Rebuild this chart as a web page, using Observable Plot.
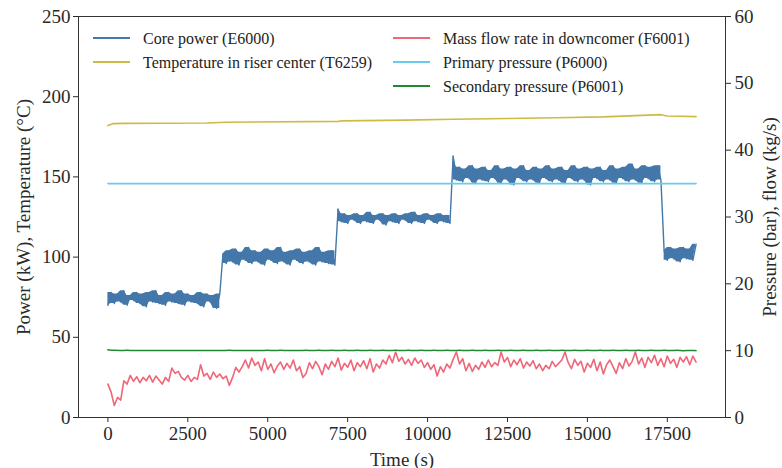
<!DOCTYPE html>
<html><head><meta charset="utf-8">
<script src="https://cdn.jsdelivr.net/npm/d3@7"></script>
<script src="https://cdn.jsdelivr.net/npm/@observablehq/plot@0.6"></script>
<style>body{margin:0;background:#fff} #chart{position:relative;width:782px;height:468px}</style>
</head><body><div id="chart"></div>
<script>
// ---- data ----
const sampleStep = 100; // s, sampling interval of power & flow series
const corePower = [
  70,78,71,77,72,79,70,76,73,78, 71,77,69,78,72,79,71,76,70,78, 72,77,71,79,70,77,72,76,71,78, 69,77,72,76,68,77,
  102,96,104,97,105,95,103,98,106,96, 104,97,103,95,105,98,104,96,106,97, 103,95,104,98,105,96,103,97,104,95, 106,97,103,96,104,95,
  130,122,127,121,126,123,127,121,126,122, 128,121,126,123,127,120,126,122,127,121, 126,123,127,121,128,122,126,121,127,123, 126,121,127,122,126,121,
  163,148,156,147,155,149,157,146,155,148, 156,147,154,149,157,146,155,148,156,145, 155,149,157,147,154,148,156,146,155,149,
  157,147,155,148,156,146,154,149,157,147, 155,148,156,145,155,149,156,147,154,148, 157,146,155,149,156,147,158,148,155,146, 157,149,156,147,157,148,
  104,98,106,99,105,97,106,99,105,98,108
];
const massFlow = [
  5.0,3.8,1.8,3.0,2.6,5.5,5.0,6.3,5.4,6.1,
  5.2,6.0,5.5,6.3,5.3,6.2,5.6,5.0,6.0,5.4,
  7.4,6.6,6.9,6.0,5.6,6.3,5.4,6.0,5.7,7.9,
  6.2,6.6,5.7,6.8,6.0,6.5,5.8,6.2,4.8,6.0,
  7.5,6.8,7.6,8.6,7.4,8.9,7.8,8.3,7.0,8.8,
  7.2,8.0,6.7,7.7,8.3,7.2,8.1,7.4,8.6,7.0,
  7.6,6.0,6.6,8.2,7.3,8.4,7.6,6.4,8.0,7.2,
  8.4,7.6,8.9,7.1,8.1,7.5,8.6,7.0,8.2,7.6,
  8.5,7.3,8.8,6.8,8.0,7.4,8.6,8.0,9.3,8.2,
  9.8,8.4,9.0,8.0,8.7,7.8,8.9,8.1,8.6,7.5,
  8.2,7.2,7.9,6.2,7.6,6.8,8.0,7.4,8.7,9.8,
  8.0,8.8,7.0,8.1,6.9,7.8,7.2,8.3,7.5,8.6,
  7.6,8.2,7.8,9.8,8.3,9.0,7.6,8.6,7.9,8.8,
  7.4,8.3,7.7,8.5,7.3,8.0,7.0,7.8,7.3,8.4,
  7.6,8.1,8.6,9.8,8.2,7.3,8.7,7.8,8.4,6.8,
  8.1,7.5,8.7,7.0,8.3,6.5,7.9,8.6,7.6,6.6,
  8.2,7.3,8.8,7.7,8.4,9.8,8.0,8.9,7.5,9.0,
  8.2,9.3,7.8,8.8,7.6,9.2,8.1,8.7,7.5,9.0,
  8.3,9.1,7.9,9.2,8.3
];
const secStep = 200; // s
const secondaryPressure = [
  10.12,10.05,10.03,10.06,10.02,10.05,10.03,10.04,10.02,10.05,
  10.03,10.05,10.02,10.04,10.03,10.05,10.02,10.04,10.03,10.06,
  10.02,10.05,10.03,10.05,10.02,10.06,10.01,10.07,10.02,10.05,
  10.0,10.07,10.0,10.08,9.98,10.08,9.99,10.09,9.98,10.08,
  9.97,10.09,9.98,10.08,9.97,10.09,9.98,10.08,9.97,10.1,
  9.97,10.08,9.98,10.09,9.97,10.08,9.98,10.09,9.97,10.08,
  9.98,10.1,9.97,10.08,9.98,10.09,9.97,10.08,9.98,10.09,
  9.97,10.1,9.98,10.08,9.97,10.09,9.98,10.08,9.97,10.09,
  9.98,10.1,9.97,10.08,9.98,10.09,9.97,10.1,9.98,10.08,
  9.97,10.07,10.0
];
const tempTimes = [0,150,500,3100,3700,7200,7300,9300,10800,12500,14000,15500,16500,17300,17500,18400];
const tempValues = [182,183.2,183.4,183.6,184.1,184.6,184.9,185.4,185.9,186.4,186.9,187.4,188.2,188.8,188.0,187.6];
const primaryTimes = [0,18400];
const primaryValues = [35,35];

const xTicks = [0,2500,5000,7500,10000,12500,15000,17500];
const yTicksLeft = [0,50,100,150,200,250];
const yTicksRight = [0,10,20,30,40,50,60];

const seriesNames = ["Core power (E6000)","Temperature in riser center (T6259)","Mass flow rate in downcomer (F6001)","Primary pressure (P6000)","Secondary pressure (P6001)"];
const seriesColors = ["#4477AA","#CCBB44","#EE6677","#66CCEE","#228833"];

// ---- build tables ----
const k = 250/60; // right axis -> left axis units
const powerData = corePower.map((v,i)=>({t:i*sampleStep, v}));
// noise envelope of neighbouring samples (the dense band of the 1 Hz signal), split at power steps
let level = 0;
const powerBand = corePower.map((v,i)=>{
  const p = i > 0 ? corePower[i-1] : v;
  const n = i+1 < corePower.length ? corePower[i+1] : v;
  if (Math.abs(v - p) > 15) level++;
  const nb = Math.abs(n - v) > 15 ? p : n;
  return {t:i*sampleStep, lo:Math.min(v,nb), hi:Math.max(v,nb), level};
});
const flowData = massFlow.map((v,i)=>({t:i*sampleStep, v:v*k}));
const secData = secondaryPressure.map((v,i)=>({t:Math.min(i*secStep,18400), v:v*k}));
const tempData = tempTimes.map((t,i)=>({t, v:tempValues[i]}));
const primData = primaryTimes.map((t,i)=>({t, v:primaryValues[i]*k}));

const font = '"Liberation Serif","Times New Roman",serif';
const plot = Plot.plot({
  width:782, height:468,
  marginLeft:78, marginRight:57, marginTop:16, marginBottom:51,
  style:{fontFamily:font, fontSize:"19px", color:"#2a2a2a", background:"white"},
  x:{domain:[-920,19320]},
  y:{domain:[0,250]},
  marks:[
    Plot.areaY(powerBand,{x:"t",y1:"lo",y2:"hi",z:"level",fill:seriesColors[0]}),
    Plot.lineY(powerData,{x:"t",y:"v",stroke:seriesColors[0],strokeWidth:1.4}),
    Plot.lineY(tempData,{x:"t",y:"v",stroke:seriesColors[1],strokeWidth:1.6}),
    Plot.lineY(flowData,{x:"t",y:"v",stroke:seriesColors[2],strokeWidth:1.6}),
    Plot.lineY(primData,{x:"t",y:"v",stroke:seriesColors[3],strokeWidth:1.6}),
    Plot.lineY(secData,{x:"t",y:"v",stroke:seriesColors[4],strokeWidth:1.5,curve:"basis"}),
    Plot.frame({stroke:"#333", strokeWidth:1}),
    Plot.axisX({ticks:xTicks, tickSize:5, tickPadding:4, tickFormat:d=>String(d), label:"Time (s)", labelAnchor:"center", labelOffset:48, labelArrow:"none"}),
    Plot.axisY({ticks:yTicksLeft, anchor:"left", tickSize:5, tickPadding:3, label:"Power (kW), Temperature (°C)", labelAnchor:"center", labelOffset:62, labelArrow:"none"}),
    Plot.axisY({ticks:yTicksRight.map(v=>v*k), anchor:"right", tickSize:5, tickPadding:4, tickFormat:d=>String(Math.round(d/k)), label:"Pressure (bar), flow (kg/s)", labelAnchor:"center", labelOffset:50, labelArrow:"none"})
  ]
});
document.getElementById("chart").appendChild(plot);

// ---- legend (two columns, column-major order) ----
const legendColX = [93, 393];
const legendRowY = [38, 62, 86];
const legendLineLen = 37, legendTextGap = 13;
const svg = d3.select(plot);
const lg = svg.append("g").attr("font-family", font).attr("font-size", 16).attr("fill", "#222").attr("text-anchor","start");
seriesNames.forEach((name,i)=>{
  const col = i < 2 ? 0 : 1;
  const row = i < 2 ? i : i - 2;
  const x = legendColX[col], y = legendRowY[row];
  lg.append("line").attr("x1",x).attr("x2",x+legendLineLen).attr("y1",y).attr("y2",y)
    .attr("stroke",seriesColors[i]).attr("stroke-width",2);
  lg.append("text").attr("x",x+legendLineLen+legendTextGap).attr("y",y).attr("dy","0.35em").attr("text-anchor","start").text(name);
});
</script>
</body></html>
